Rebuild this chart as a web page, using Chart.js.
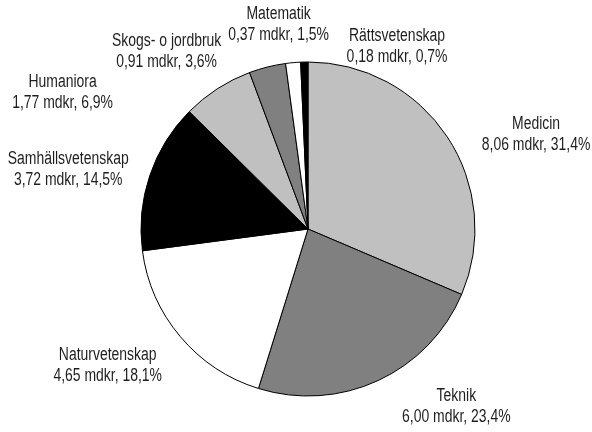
<!DOCTYPE html>
<html>
<head>
<meta charset="utf-8">
<script src="https://cdn.jsdelivr.net/npm/chart.js@4"></script>
<style>
  html, body { margin: 0; padding: 0; background: #fff; }
  #wrap { width: 592px; height: 432px; }
</style>
</head>
<body>
<div id="wrap"><canvas id="myChart" width="592" height="432"></canvas></div>
<script>
// data
var categories = ['Medicin', 'Teknik', 'Naturvetenskap', 'Samhällsvetenskap', 'Humaniora', 'Skogs- o jordbruk', 'Matematik', 'Rättsvetenskap'];
var values = [8.06, 6.00, 4.65, 3.72, 1.77, 0.91, 0.37, 0.18];   // mdkr
var percents = [31.4, 23.4, 18.1, 14.5, 6.9, 3.6, 1.5, 0.7];

// label placement: angle (deg, clockwise from top) and distance in radii
var labelAngle = [67.6, 140.1, 235.8, 284, 299, 321.5, 351.8, 26];
var labelDist = [1.477, 1.385, 1.45, 1.48, 1.68, 1.36, 1.235, 1.216];

var sliceColors = ['#c0c0c0', '#808080', '#ffffff', '#000000', '#c0c0c0', '#808080', '#ffffff', '#000000'];

function fmt(n, d) {
    return n.toFixed(d).replace('.', ',');
}

// narrow text: draw Liberation Sans squeezed horizontally
function narrowText(c, txt, x, y) {
    c.save();
    c.translate(x, y);
    c.scale(0.775, 1);
    c.fillText(txt, 0, 0);
    c.restore();
}

var labelPlugin = {
    id: 'sliceLabels',
    afterDraw: function(chart) {
        var c = chart.ctx;
        var arcs = chart.getDatasetMeta(0).data;
        c.save();
        c.font = '18px "Liberation Sans", Arial, sans-serif';
        c.fillStyle = '#1e1e1e';
        c.textAlign = 'center';
        c.textBaseline = 'middle';
        arcs.forEach(function(arc, i) {
            var a = labelAngle[i] * Math.PI / 180;
            var r = arc.outerRadius * labelDist[i];
            var x = arc.x + Math.sin(a) * r;
            var y = arc.y - Math.cos(a) * r;
            narrowText(c, categories[i], x, y - 10.5);
            narrowText(c, fmt(values[i], 2) + ' mdkr, ' + fmt(percents[i], 1) + '%', x, y + 10.5);
        });
        c.restore();
    }
};

var ctx = document.getElementById('myChart').getContext('2d');
new Chart(ctx, {
    type: 'pie',
    data: {
        labels: categories,
        datasets: [{
            data: values,
            backgroundColor: sliceColors,
            borderColor: '#000000',
            borderWidth: 1,
            hoverOffset: 0,
            radius: 167
        }]
    },
    options: {
        responsive: false,
        animation: false,
        layout: { padding: { left: 140, right: 116, top: 61, bottom: 35 } },
        plugins: {
            legend: { display: false },
            tooltip: { enabled: false }
        }
    },
    plugins: [labelPlugin]
});
</script>
</body>
</html>
